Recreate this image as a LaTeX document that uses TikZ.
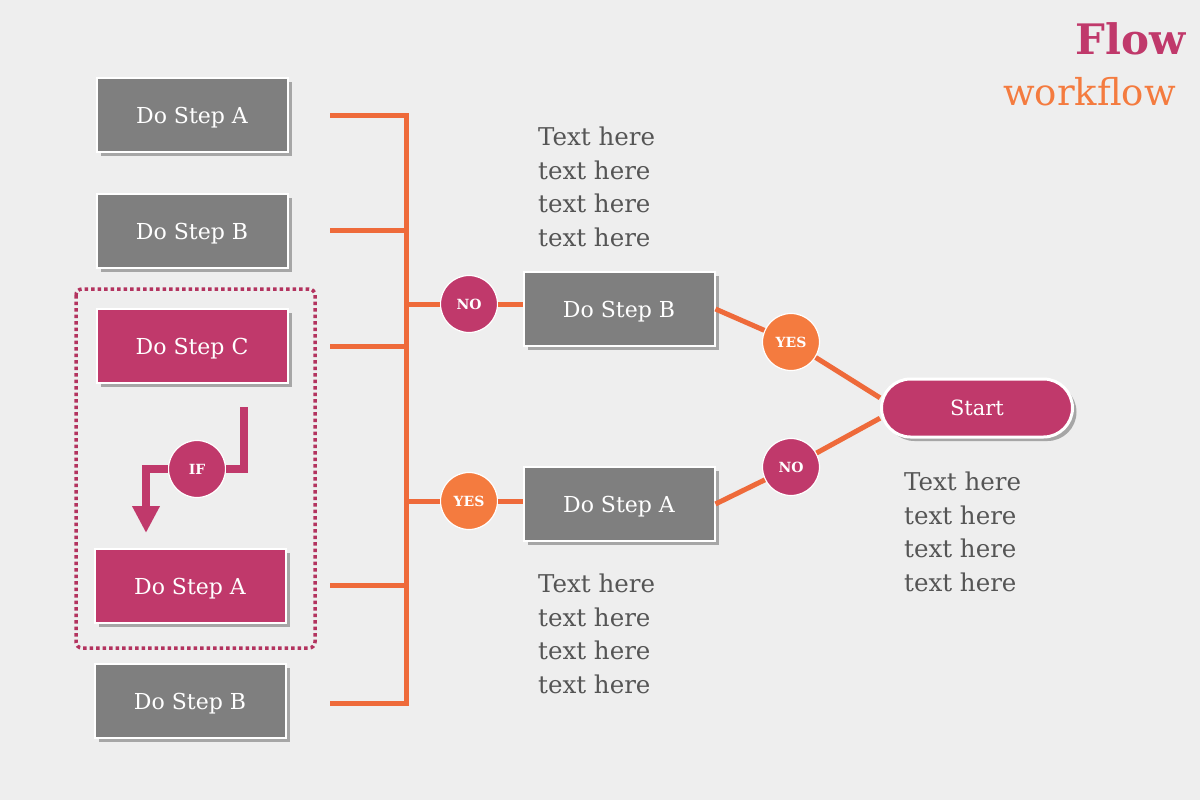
\documentclass[tikz,border=0pt]{standalone}
\usepackage{fontspec}
\setmainfont{DejaVu Serif}
\usetikzlibrary{shadows,arrows.meta}
\definecolor{bgc}{HTML}{EEEEEE}
\definecolor{boxgray}{HTML}{7F7F7F}
\definecolor{mag}{HTML}{C0396B}
\definecolor{dotc}{HTML}{B3335F}
\definecolor{orl}{HTML}{EE6A3A}
\definecolor{orc}{HTML}{F47B3F}
\definecolor{txt}{HTML}{555555}
\tikzset{
  stepbox/.style={draw=white, line width=2pt, fill=boxgray, minimum width=191pt, minimum height=74pt,
    inner sep=0pt, text=white, text depth=0pt, font=\fontsize{22}{24}\selectfont,
    drop shadow={shadow xshift=4pt, shadow yshift=-4pt, fill=black!35, opacity=1}},
  magbox/.style={stepbox, fill=mag},
  decision/.style={circle, draw=white, line width=1.2pt, minimum size=57pt, inner sep=0pt,
    text=white, font=\bfseries\fontsize{14}{16}\selectfont},
  nodec/.style={decision, fill=mag},
  yesc/.style={decision, fill=orc},
  link/.style={draw=orl, line width=5pt},
  note/.style={anchor=north west, align=left, text=txt, inner sep=0pt,
    font=\fontsize{24.5}{33.5}\selectfont},
  ifarrow/.style={draw=mag, line width=8pt, miter limit=10}
}
\begin{document}
\begin{tikzpicture}[x=1pt,y=-1pt]
\fill[bgc] (0,0) rectangle (1200,800);
\useasboundingbox (0,0) rectangle (1200,800);

% title
\node[anchor=base east, text=mag, font=\bfseries\fontsize{42}{44}\selectfont, inner sep=0pt] (title) at (1186,55) {Flow};
\node[anchor=base east, text=orc, font=\fontsize{37}{40}\selectfont, inner sep=0pt] (subtitle) at (1176,105) {workflow};

% dotted group
\draw[dotc, line width=3.5pt, dash pattern=on 3.5pt off 3pt, rounded corners=6pt] (76,289) rectangle (315,648);

% left boxes
\node[stepbox] (L1) at (192,115) {Do Step A};
\node[stepbox] (L2) at (192,231) {Do Step B};
\node[magbox] (L3) at (192,346) {Do Step C};
\node[magbox] (L4) at (190,586) {Do Step A};
\node[stepbox] (L5) at (190,701) {Do Step B};

% IF
\node[nodec] (IF) at (197,469) {IF};
\coordinate (ifa) at (244,407);
\coordinate (ifb) at (146,533);
\draw[ifarrow] (ifa) |- (IF);
\draw[ifarrow, -{Triangle[width=26pt,length=27pt]}] (IF) -| (ifb);

% bracket
\coordinate (b1) at (330,115);
\coordinate (b2) at (330,230);
\coordinate (b3) at (330,346);
\coordinate (b4) at (330,585);
\coordinate (b5) at (330,703);
\coordinate (v1) at (406,115);
\coordinate (v2) at (406,230);
\coordinate (v3) at (406,346);
\coordinate (v4) at (406,585);
\coordinate (v5) at (406,703);
\coordinate (vn) at (406,304);
\coordinate (vy) at (406,501);
\draw[link, line join=miter] (b1) -- (v1) -- (v5) -- (b5);
\draw[link] (b2) -- (v2);
\draw[link] (b3) -- (v3);
\draw[link] (b4) -- (v4);

% middle
\node[nodec] (N1) at (469,304) {NO};
\node[yesc] (Y1) at (469,501) {YES};
\node[stepbox] (MB) at (619,309) {Do Step B};
\node[stepbox] (MA) at (619,504) {Do Step A};
\draw[link] (vn) -- (N1);
\draw[link] (vy) -- (Y1);
\draw[link] (N1) -- (N1 -| MB.west);
\draw[link] (Y1) -- (Y1 -| MA.west);

% right
\node[yesc] (Y2) at (791,342) {YES};
\node[nodec] (N2) at (791,467) {NO};
\node[draw=white, line width=3pt, fill=mag, rounded corners=29pt, minimum width=191pt, minimum height=58pt,
  text=white, text depth=0pt, font=\fontsize{21}{24}\selectfont,
  drop shadow={shadow xshift=4pt, shadow yshift=-4pt, fill=black!35, opacity=1}] (S) at (977,408) {Start};
\draw[link] (MB.east) -- (Y2);
\draw[link] (Y2) -- (S.174);
\draw[link] (MA.east) -- (N2);
\draw[link] (N2) -- (S.186);

% notes
\node[note] (t1) at (538,127) {Text here\\text here\\text here\\text here};
\node[note] (t2) at (538,574) {Text here\\text here\\text here\\text here};
\node[note] (t3) at (904,472) {Text here\\text here\\text here\\text here};
\end{tikzpicture}
\end{document}
